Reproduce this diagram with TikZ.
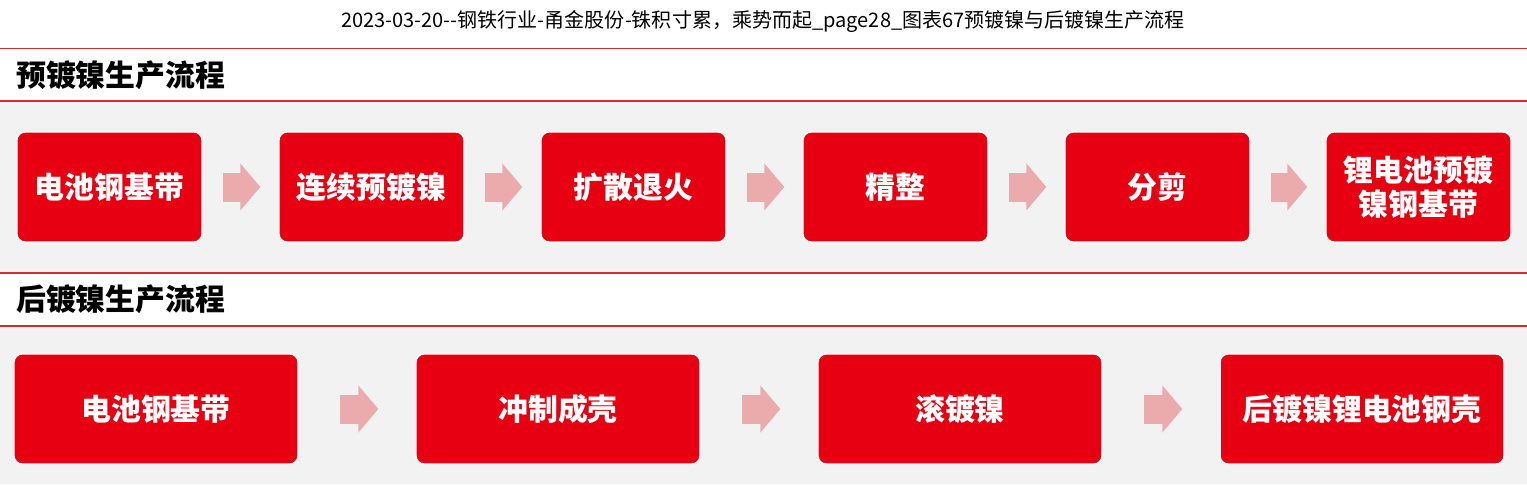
\documentclass[tikz,border=0pt]{standalone}
\usepackage{fontspec}
\setmainfont{Noto Sans CJK SC}
\usetikzlibrary{arrows.meta}
\definecolor{boxred}{HTML}{E60012}
\definecolor{linered}{HTML}{D42A30}
\definecolor{arrowpink}{HTML}{EBAAAB}
\definecolor{bggray}{HTML}{F2F2F2}

\begin{document}
\begin{tikzpicture}[x=0.02cm, y=-0.02cm]
    \tikzset{stage/.style = {shape=rectangle, rounded corners=0.16cm, draw=white, line width=0.8pt, fill=boxred, text=white, font=\bfseries\fontsize{17}{19.5}\selectfont, minimum width=3.7cm, minimum height=2.2cm, align=center, inner sep=0pt}}
    \tikzset{wide/.style = {minimum width=5.68cm}}
    \tikzset{flow/.style = {draw=arrowpink, line width=0.58cm, -{Triangle[length=0.4cm, width=0.92cm]}}}
    \tikzset{band/.style = {draw=linered, line width=1.1pt}}

    % background
    \useasboundingbox (0,0) rectangle (1527,484);
    \fill[bggray] (0,101) rectangle (1527,273);
    \fill[bggray] (0,326) rectangle (1527,484);
    \draw[band] (0,48.5) -- (1527,48.5);
    \draw[band] (0,101) -- (1527,101);
    \draw[band] (0,273) -- (1527,273);
    \draw[band] (0,326) -- (1527,326);

    % titles
    \node[font=\fontsize{11.4}{13}\selectfont] (title) at (763,21) {2023-03-20-{}-钢铁行业-甬金股份-铢积寸累，乘势而起\_page28\_图表67预镀镍与后镀镍生产流程};
    \node[anchor=west, font=\bfseries\fontsize{17}{19}\selectfont] (pre) at (10,75) {预镀镍生产流程};
    \node[anchor=west, font=\bfseries\fontsize{17}{19}\selectfont] (post) at (10,299) {后镀镍生产流程};

    % pre-plating boxes
    \node[stage] (p1) at (109.5,187) {电池钢基带};
    \node[stage] (p2) at (371.5,187) {连续预镀镍};
    \node[stage] (p3) at (633.5,187) {扩散退火};
    \node[stage] (p4) at (895.5,187) {精整};
    \node[stage] (p5) at (1157.5,187) {分剪};
    \node[stage] (p6) at (1418.5,187) {锂电池预镀\\镍钢基带};

    % post-plating boxes
    \node[stage,wide] (q1) at (156,409) {电池钢基带};
    \node[stage,wide] (q2) at (558,409) {冲制成壳};
    \node[stage,wide] (q3) at (960,409) {滚镀镍};
    \node[stage,wide] (q4) at (1362,409) {后镀镍锂电池钢壳};

    % arrows
    \draw[flow, shorten <=0.4cm, shorten >=0.36cm] (p1) -- (p2);
    \draw[flow, shorten <=0.4cm, shorten >=0.36cm] (p2) -- (p3);
    \draw[flow, shorten <=0.4cm, shorten >=0.36cm] (p3) -- (p4);
    \draw[flow, shorten <=0.4cm, shorten >=0.36cm] (p4) -- (p5);
    \draw[flow, shorten <=0.4cm, shorten >=0.36cm] (p5) -- (p6);
    \draw[flow, shorten <=0.82cm, shorten >=0.74cm] (q1) -- (q2);
    \draw[flow, shorten <=0.82cm, shorten >=0.74cm] (q2) -- (q3);
    \draw[flow, shorten <=0.82cm, shorten >=0.74cm] (q3) -- (q4);
\end{tikzpicture}
\end{document}
